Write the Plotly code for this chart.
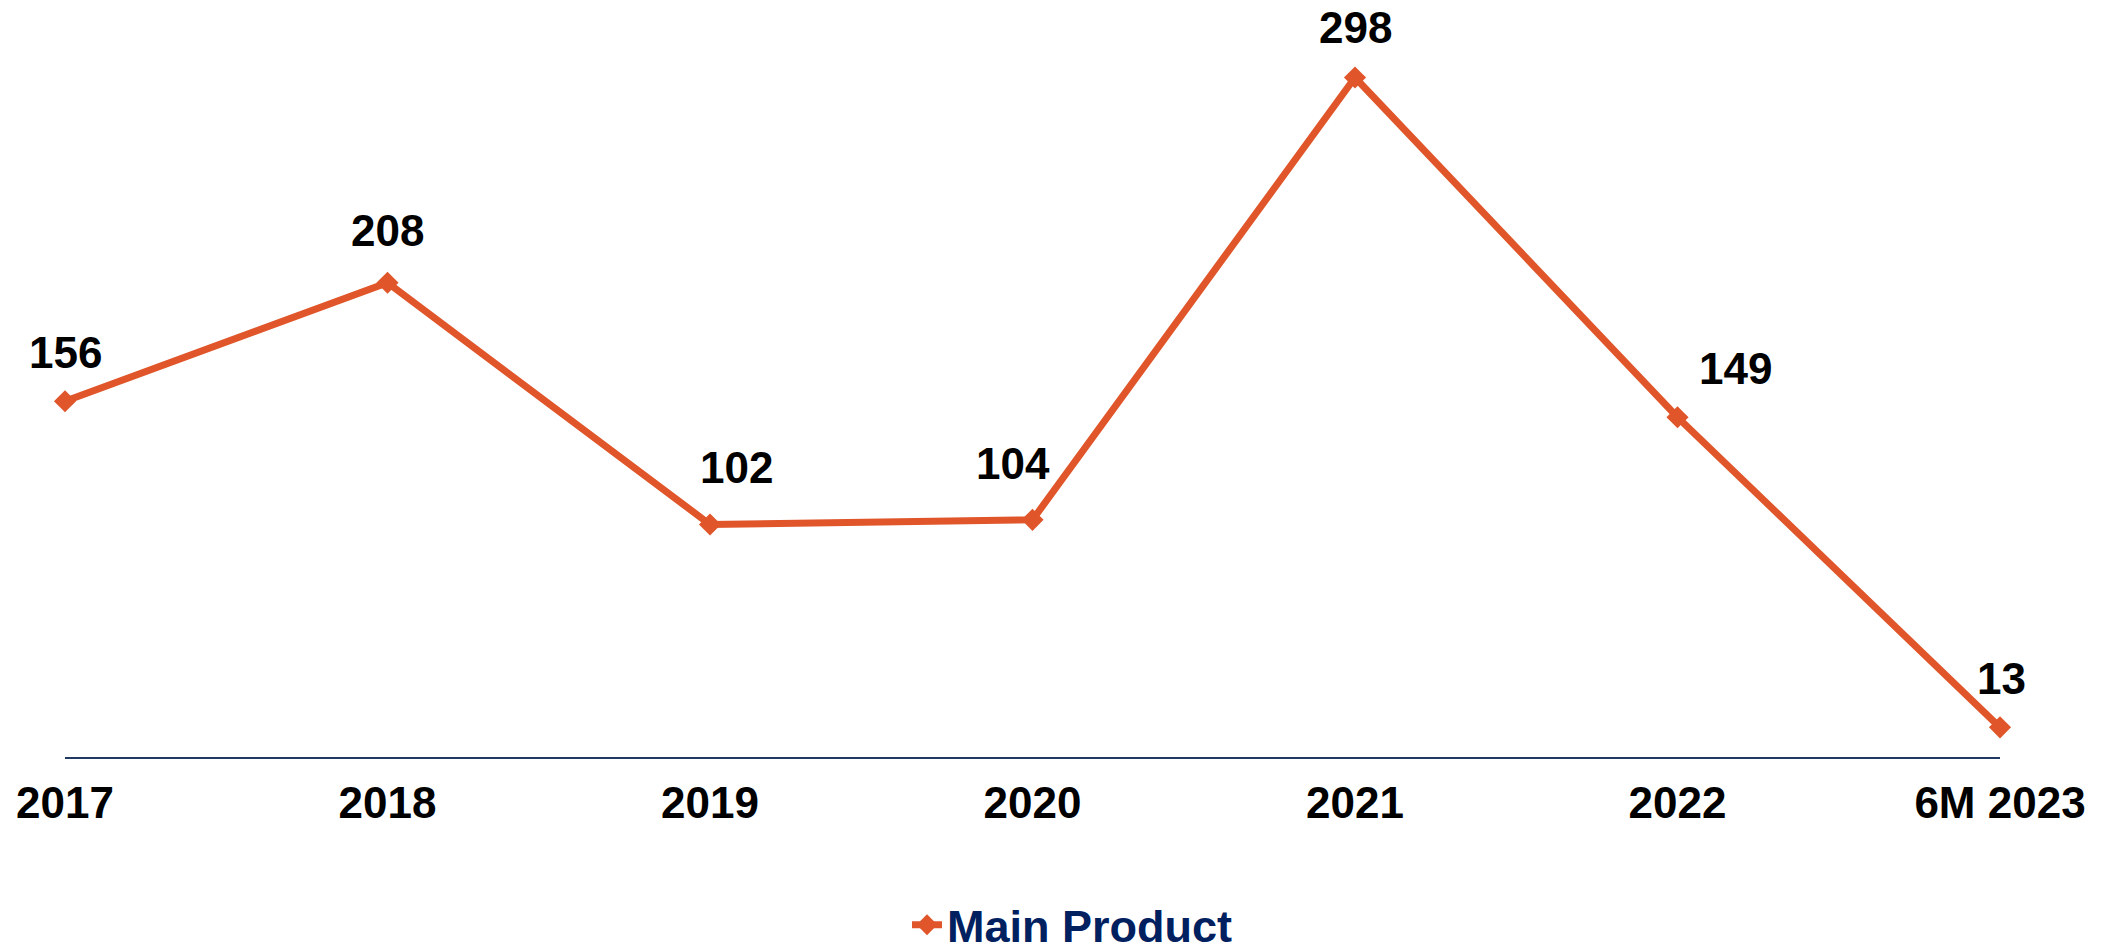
import plotly.graph_objects as go

categories = ["2017", "2018", "2019", "2020", "2021", "2022", "6M 2023"]
values = [156, 208, 102, 104, 298, 149, 13]
series_name = "Main Product"

# label offsets (pixels) relative to each point: (x shift, y shift)
label_dx = [0, 0, 26, -20, 0, 58, 1]
label_dy = [49, 52, 57, 56, 50, 49, 49]

ORANGE = "#E0562A"
NAVY = "#1F3864"
FONT = "Liberation Sans, Arial, sans-serif"

W, H = 2110, 951
ML, MR, MT, MB = 65, 110, 0, 194

fig = go.Figure()
fig.add_trace(go.Scatter(
    x=categories, y=values, name=series_name,
    mode="lines+markers",
    line=dict(color=ORANGE, width=7),
    marker=dict(symbol="diamond", size=17, color=ORANGE),
    cliponaxis=False,
))

for i, (v, dx, dy) in enumerate(zip(values, label_dx, label_dy)):
    fig.add_annotation(
        x=i, y=v, xref="x", yref="y", text=f"<b>{v}</b>", showarrow=False,
        xshift=dx, yshift=dy,
        font=dict(family=FONT, size=44, color="black"),
    )

fig.update_layout(
    width=W, height=H,
    margin=dict(l=ML, r=MR, t=MT, b=MB, autoexpand=False),
    paper_bgcolor="white", plot_bgcolor="white",
    showlegend=True,
    legend=dict(
        orientation="h", xanchor="left", yanchor="middle",
        x=(907 - ML) / (W - ML - MR), y=-(925 - (H - MB)) / (H - MT - MB),
        font=dict(family=FONT, size=45, color="#002060", weight="bold"),
        bgcolor="rgba(0,0,0,0)",
    ),
    xaxis=dict(
        type="category", range=[0, 6],
        showline=True, linecolor=NAVY, linewidth=2,
        showgrid=False, zeroline=False, ticks="",
        tickfont=dict(family=FONT, size=44, color="black", weight="bold"),
        ticklabelstandoff=6,
    ),
    yaxis=dict(range=[0, 332], visible=False, showgrid=False, zeroline=False),
)

fig.write_html("out.html")
